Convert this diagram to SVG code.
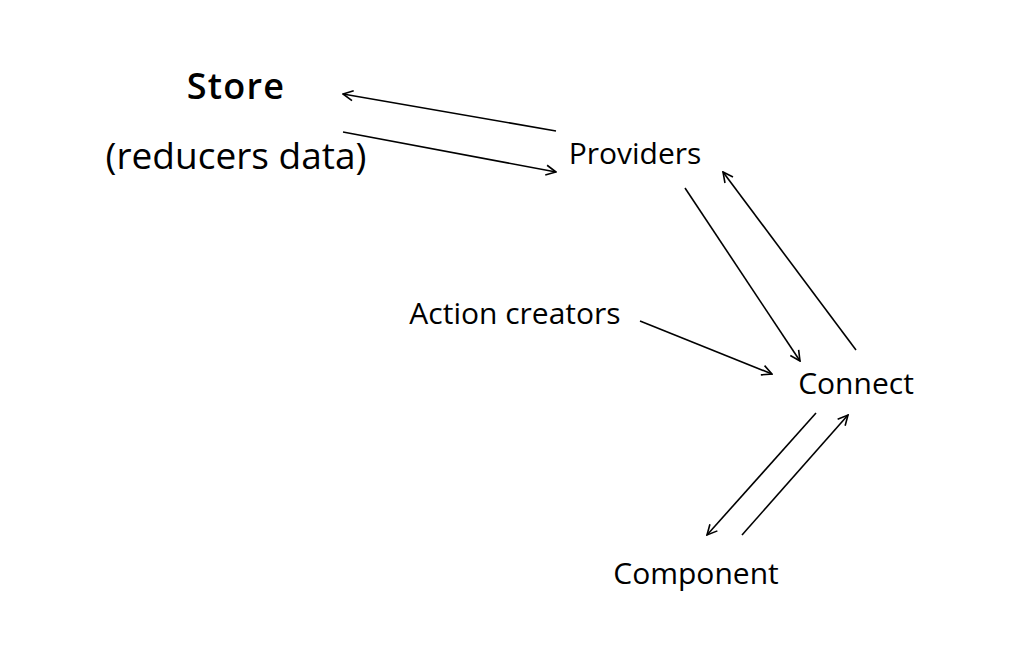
<svg xmlns="http://www.w3.org/2000/svg" width="1022" height="664" viewBox="0 0 1022 664">
<style>
.t{font-family:"Open Sans","Noto Sans",sans-serif;fill:#000;font-size:30px}
.b{font-family:"Open Sans","Noto Sans",sans-serif;font-weight:600;fill:#000}
.c{stroke:#000;stroke-width:1.6;fill:none;marker-end:url(#ah)}
</style>
<defs>
<marker id="ah" viewBox="0 0 12 12" refX="11" refY="6" markerWidth="12" markerHeight="12" markerUnits="userSpaceOnUse" orient="auto">
<path d="M1,1 L11,6 L1,11" fill="none" stroke="#000" stroke-width="1.6"/>
</marker>
</defs>
<rect width="1022" height="664" fill="#fff"/>
<g id="store"><text class="b" x="236" y="99" font-size="36" text-anchor="middle" letter-spacing="1.2">Store</text>
<text class="t" x="236" y="169" style="font-size:37px" text-anchor="middle">(reducers data)</text></g>
<g id="providers"><text class="t" x="635" y="164" text-anchor="middle">Providers</text></g>
<g id="action-creators"><text class="t" x="515" y="324" text-anchor="middle">Action creators</text></g>
<g id="connect"><text class="t" x="856" y="394" text-anchor="middle">Connect</text></g>
<g id="component"><text class="t" x="696" y="584" text-anchor="middle">Component</text></g>
<g id="connectors">
<line class="c" x1="556" y1="131" x2="343" y2="94"/>
<line class="c" x1="343" y1="132" x2="556" y2="172"/>
<line class="c" x1="685" y1="188" x2="800" y2="361"/>
<line class="c" x1="856" y1="350" x2="723" y2="172"/>
<line class="c" x1="640" y1="321" x2="772" y2="374"/>
<line class="c" x1="816" y1="413" x2="707" y2="535"/>
<line class="c" x1="742" y1="535" x2="848" y2="415"/>
</g>
</svg>
